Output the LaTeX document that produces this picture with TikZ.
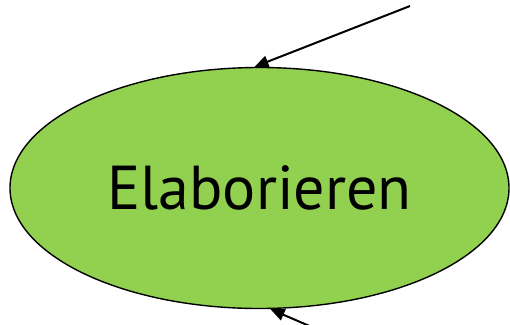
\documentclass[tikz,border=0pt]{standalone}
\usepackage{fontspec}
\setmainfont{PT Sans}
\usetikzlibrary{arrows.meta,shapes.geometric}
\definecolor{elabgreen}{RGB}{146,208,80}
\begin{document}
\begin{tikzpicture}[x=1pt,y=-1pt,
    task/.style={ellipse,draw,line width=1.4pt,fill=elabgreen,minimum width=499pt,minimum height=241pt,inner sep=0pt,font=\fontsize{62}{70}\selectfont},
    flow/.style={line width=2pt,-{Triangle[length=14pt,width=12pt]}}]
            \useasboundingbox (0,0) rectangle (510,324);
            \clip (0,0) rectangle (510,324);
            % Nodes
            \node[task] (elab) at (259.5,188) {Elaborieren};
            \coordinate (in) at (410,6);
            \coordinate (back) at (335,337);

            % Edges
            \draw[flow] (in) -- ([xshift=-5pt]elab.north);
            \draw[flow] (back) -- ([xshift=11pt]elab.south);
        \end{tikzpicture}
\end{document}
